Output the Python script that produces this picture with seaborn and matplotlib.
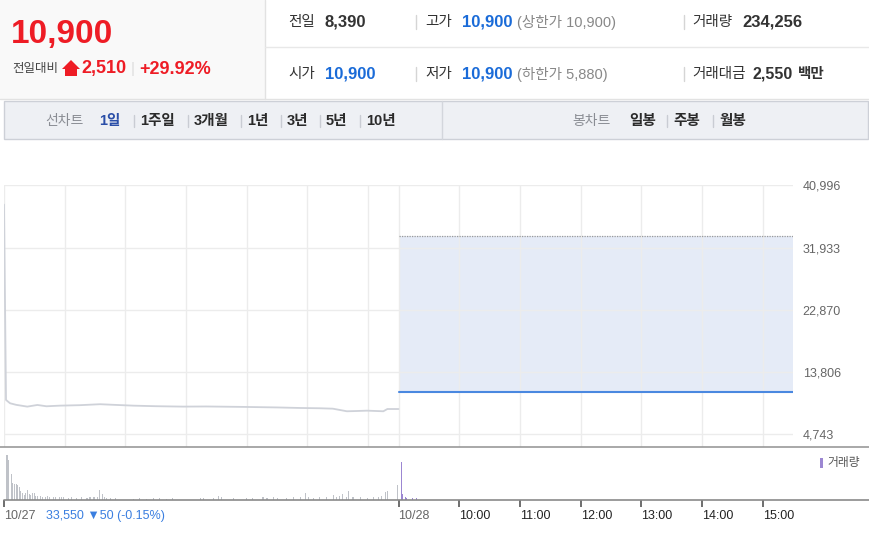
import seaborn as sns
import matplotlib.pyplot as plt
from matplotlib.lines import Line2D
from matplotlib.patches import Rectangle, Polygon

# ---- quote summary ----
last_price = 10900
change = 2510
change_pct = 29.92
prev_close = 8390
open_price = 10900
high_price = 10900
low_price = 10900
upper_limit = 10900
lower_limit = 5880
volume_total = 234256
value_total = 2550  # 백만

# ---- chart data (minutes since 09:00 of each session) ----
ref_price = 33550
ref_change = -50
ref_change_pct = -0.15
y_ticks = [4743, 13806, 22870, 31933, 40996]

day1_minutes = [0, 2, 6, 12, 23, 33, 42, 55, 75, 95, 110, 128, 150, 177, 200,
                240, 270, 293, 312, 325, 339, 349, 359, 375, 379, 390]
day1_prices = [38200, 9710, 9230, 9000, 8740, 8980, 8790, 8880, 8950, 9090, 8990,
               8880, 8800, 8740, 8760, 8690, 8620, 8540, 8500, 8440, 8060, 8100,
               8150, 8060, 8390, 8390]

day2_minutes = [0, 390]
day2_prices = [10900, 10900]

vol1_minutes = [3, 4, 7, 8, 10, 12, 13, 15, 16, 18, 20, 21, 23, 25, 26, 28, 30,
                31, 33, 36, 38, 41, 43, 45, 49, 51, 55, 57, 59, 64, 67, 72, 77,
                82, 85, 89, 92, 94, 97, 99, 101, 105, 110, 128, 134, 141, 148,
                154, 161, 167, 194, 197, 207, 212, 215, 227, 240, 246, 256, 260,
                266, 270, 279, 286, 293, 298, 301, 306, 312, 319, 326, 329, 332,
                335, 339, 341, 345, 352, 359, 365, 370, 373, 377, 379, 389]
vol1_qty = [45, 40, 25.7, 16.7, 16, 15.7, 15, 12.7, 9.3, 7.3, 5, 6.7, 10, 6, 5,
            6.7, 6.7, 4, 4.3, 4, 3.3, 3.3, 4, 2.7, 2.7, 3.3, 2.7, 2.7, 3.3, 2.3,
            2.7, 1.7, 2.7, 1.7, 2.7, 2.7, 3.3, 10, 5.7, 2.7, 2, 1.7, 1.7, 1.3,
            1.7, 1.3, 1.7, 2, 1.3, 1.7, 1.7, 1.7, 2, 4, 2.7, 1.7, 1.7, 2, 2.7,
            2, 2.7, 1.7, 2, 2.7, 2.7, 6.7, 2.7, 2, 2.7, 3.3, 5, 3.3, 4, 5.7,
            3.3, 9, 2.7, 2.7, 2.3, 2.7, 3.3, 4, 8.3, 9, 15]
vol2_minutes = [3, 4, 7, 8, 14, 18]
vol2_qty = [37.7, 5.7, 3.3, 1.7, 1.7, 1.7]

session_len = 390
tick_minutes = [0, 390, 450, 510, 570, 630, 690, 750]
tick_labels = ["10/27", "10/28", "10:00", "11:00", "12:00", "13:00", "14:00", "15:00"]
grid_minutes = [0, 60, 120, 180, 240, 300, 360, 390, 450, 510, 570, 630, 690, 750]

range_tabs = ["1일", "1주일", "3개월", "1년", "3년", "5년", "10년"]
candle_tabs = ["일봉", "주봉", "월봉"]

RED = "#ee1c25"
BLUE = "#1a6bd8"
DARK = "#333333"
GRAY = "#888888"

sns.set_style("white")
plt.rcParams["font.family"] = ["Liberation Sans", "Noto Sans CJK KR", "DejaVu Sans"]

W, H = 870, 543
fig = plt.figure(figsize=(W / 100, H / 100), dpi=100)


def fx(x):
    return x / W


def fy(y):
    return 1 - y / H


def box(x0, y0, x1, y1, **kw):
    fig.add_artist(Rectangle((fx(x0), fy(y1)), (x1 - x0) / W, (y1 - y0) / H,
                             transform=fig.transFigure, **kw))


def hline(x0, x1, y, **kw):
    fig.add_artist(Line2D([fx(x0), fx(x1)], [fy(y), fy(y)], transform=fig.transFigure, **kw))


def vline(x, y0, y1, **kw):
    fig.add_artist(Line2D([fx(x), fx(x)], [fy(y0), fy(y1)], transform=fig.transFigure, **kw))


def txt(x, y, s, **kw):
    fig.text(fx(x), fy(y), s, va="center", **kw)


# ---- header ----
box(0, 0, 265, 99, fc="#f9f9f9", ec="none")
vline(265, 0, 99, color="#e2e2e2", lw=1)
hline(265, 870, 47, color="#e8e8e8", lw=1)
hline(0, 870, 99, color="#e2e2e2", lw=1)

txt(11, 34, f"{last_price:,}", color=RED, fontsize=24, fontweight="bold")
txt(12, 69, "전일대비", color="#444444", fontsize=9)
fig.add_artist(Polygon([(fx(62), fy(69)), (fx(71), fy(60)), (fx(80), fy(69)),
                        (fx(77), fy(69)), (fx(77), fy(76)), (fx(65), fy(76)),
                        (fx(65), fy(69))], closed=True, transform=fig.transFigure,
                       fc=RED, ec="none"))
txt(81, 69, f"{change:,}", color=RED, fontsize=13, fontweight="bold")
txt(131, 69, "|", color="#dddddd", fontsize=11)
txt(139, 69, f"+{change_pct:.2f}%", color=RED, fontsize=13, fontweight="bold")

rows = [
    (22, [(288, "전일", DARK, "normal", 10.5), (325, f"{prev_close:,}", DARK, "bold", 12),
          (425, "고가", DARK, "normal", 10.5), (462, f"{high_price:,}", BLUE, "bold", 12),
          (517, f"(상한가 {upper_limit:,})", GRAY, "normal", 10.5),
          (692, "거래량", DARK, "normal", 10.5), (742, f"{volume_total:,}", DARK, "bold", 12)]),
    (74, [(288, "시가", DARK, "normal", 10.5), (325, f"{open_price:,}", BLUE, "bold", 12),
          (425, "저가", DARK, "normal", 10.5), (462, f"{low_price:,}", BLUE, "bold", 12),
          (517, f"(하한가 {lower_limit:,})", GRAY, "normal", 10.5),
          (692, "거래대금", DARK, "normal", 10.5), (753, f"{value_total:,}", DARK, "bold", 11.5),
          (798, "백만", DARK, "bold", 10.5)]),
]
for y, items in rows:
    for x, s, c, w, fs in items:
        txt(x, y, s, color=c, fontweight=w, fontsize=fs)
    for x in (416, 684):
        vline(x, y - 7, y + 7, color="#d5d5d5", lw=1)

# ---- tab bar ----
box(4, 101, 868, 139, fc="#eef0f4", ec="#cdd0d7", lw=1)
vline(442, 101, 139, color="#d3d6dc", lw=1)
txt(45, 121, "선차트", color="#8a8d94", fontsize=10)
tab_x = [99, 140, 194, 247, 287, 326, 366]
for i, (x, s) in enumerate(zip(tab_x, range_tabs)):
    txt(x, 121, s, color="#2b4fa8" if i == 0 else "#2a2a2a", fontsize=10.5,
        fontweight="bold")
    if i > 0:
        vline(x - 6, 115, 127, color="#c9ccd3", lw=1)
txt(572, 121, "봉차트", color="#8a8d94", fontsize=10)
for i, (x, s) in enumerate(zip([629, 673, 719], candle_tabs)):
    txt(x, 121, s, color="#2a2a2a", fontsize=10.5, fontweight="bold")
    if i > 0:
        vline(x - 6, 115, 127, color="#c9ccd3", lw=1)

# ---- price chart ----
ax = fig.add_axes([fx(4), fy(447), 789 / W, (447 - 185) / H])
x_end = 2 * session_len
ax.fill_between([session_len, x_end], day2_prices[0], ref_price, color="#e5ebf7",
                lw=0, zorder=0.3)
ax.hlines(ref_price, session_len, x_end, color="#9a9a9a", lw=0.9,
          linestyles=(0, (1, 1)), zorder=2)
sns.lineplot(x=day1_minutes, y=day1_prices, ax=ax, color="#cfd2d9", lw=1.3, zorder=3)
sns.lineplot(x=[m + session_len for m in day2_minutes], y=day2_prices, ax=ax,
             color="#4a88e0", lw=1.5, zorder=3)
ax.set_xlim(0, x_end)
ax.set_ylim(2850, 41060)
ax.set_xticks(grid_minutes)
ax.set_xticklabels([])
ax.set_yticks(y_ticks)
ax.set_yticklabels([f"{v:,}" for v in y_ticks])
ax.yaxis.tick_right()
ax.tick_params(axis="both", length=0)
ax.tick_params(axis="y", pad=7, labelsize=9, labelcolor="#666666")
ax.grid(True, color="#ececec", lw=1)
ax.set_axisbelow(True)
for sp in ax.spines.values():
    sp.set_visible(False)
ax.set_xlabel("")
ax.set_ylabel("")
hline(0, 870, 447, color="#999999", lw=1.2)

# ---- volume ----
axv = fig.add_axes([fx(4), fy(500), 789 / W, (500 - 447) / H])
axv.bar(vol1_minutes, vol1_qty, width=1.1, color="#bfc2c8", lw=0)
axv.bar([m + session_len for m in vol2_minutes], vol2_qty, width=1.1,
        color="#9c87d2", lw=0)
axv.set_xlim(0, x_end)
axv.set_ylim(0, 53)
axv.set_yticks([])
axv.set_xticks(tick_minutes)
axv.set_xticklabels(tick_labels)
axv.tick_params(axis="x", direction="out", length=5, width=1.2, color="#555555",
                pad=2, labelsize=9, bottom=True)
for i, lab in enumerate(axv.get_xticklabels()):
    lab.set_horizontalalignment("left")
    lab.set_color("#666666" if i < 2 else "#222222")
for sp in axv.spines.values():
    sp.set_visible(False)
axv.patch.set_alpha(0)
hline(4, 870, 500, color="#8a8a8a", lw=1.2)

txt(46, 516, f"{ref_price:,} ▼{abs(ref_change)} ({ref_change_pct:.2f}%)",
    color="#3b7fe0", fontsize=9)
box(820, 458, 823, 468, fc="#9c87d2", ec="none")
txt(827, 463, "거래량", color="#555555", fontsize=8.5)

fig.savefig("out.png", dpi=100)
